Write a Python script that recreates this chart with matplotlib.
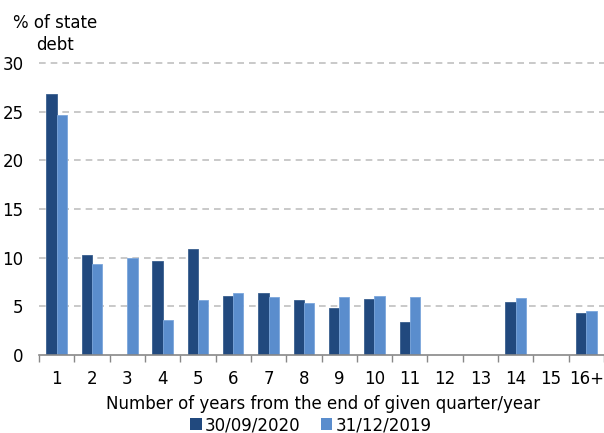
import matplotlib
matplotlib.use("Agg")
import matplotlib.pyplot as plt
import numpy as np
from matplotlib.patches import Patch

categories = ["1", "2", "3", "4", "5", "6", "7", "8", "9", "10", "11", "12", "13", "14", "15", "16+"]
debt_2020 = [26.8, 10.3, 0, 9.7, 10.9, 6.1, 6.4, 5.7, 4.8, 5.8, 3.4, 0, 0, 5.4, 0, 4.3]
debt_2019 = [24.7, 9.3, 10.0, 3.6, 5.7, 6.4, 6.0, 5.3, 6.0, 6.1, 6.0, 0, 0, 5.9, 0, 4.5]
series_labels = ["30/09/2020", "31/12/2019"]
yticks = [0, 5, 10, 15, 20, 25, 30]

dark = "#21497e"
light = "#5a8dcd"
fs = 12

plt.rcParams["font.family"] = ["DejaVu Sans"]

fig = plt.figure(figsize=(6.04, 4.33), dpi=100)
ax = fig.add_axes([39 / 604, 1 - 355 / 433, 565 / 604, 292 / 433])

x = np.arange(len(categories))
w = 0.29
ax.bar(x - w / 2, debt_2020, width=w, color=dark, edgecolor="#3a5f8f", linewidth=0.6, zorder=3)
ax.bar(x + w / 2, debt_2019, width=w, color=light, edgecolor="#7ba6dc", linewidth=0.6, zorder=3)

ax.set_xlim(-0.5, len(categories) - 0.5)
ax.set_ylim(0, 30)
ax.set_yticks(yticks)
ax.set_yticklabels([str(v) for v in yticks], fontsize=fs)
ax.set_xticks(x)
ax.set_xticklabels(categories, fontsize=fs)
ax.set_xticks(np.arange(len(categories) + 1) - 0.5, minor=True)
ax.tick_params(axis="x", which="major", length=0, pad=11)
ax.tick_params(axis="x", which="minor", length=5, color="#888888", width=1)
ax.tick_params(axis="y", length=0, pad=11)

for v in yticks[1:]:
    ax.axhline(v, color="#c0c0c0", linestyle=(0, (4, 3)), linewidth=1.2, zorder=1, clip_on=False)

for s in ["left", "right", "top"]:
    ax.spines[s].set_visible(False)
ax.spines["bottom"].set_color("#888888")
ax.spines["bottom"].set_linewidth(1.2)
ax.spines["bottom"].set_zorder(4)

fig.text(55 / 604, 1 - 34 / 433, "% of state\ndebt", ha="center", va="center", fontsize=fs,
         linespacing=1.35)
fig.text(323 / 604, 1 - 404 / 433, "Number of years from the end of given quarter/year",
         ha="center", va="center", fontsize=fs)

handles = [Patch(facecolor=dark), Patch(facecolor=light)]
fig.legend(handles, series_labels, loc="center", bbox_to_anchor=(311 / 604, 1 - 425 / 433),
           ncol=2, frameon=False, fontsize=fs, handlelength=0.7, handleheight=0.7,
           handletextpad=0.2, columnspacing=1.2, borderaxespad=0, borderpad=0)

fig.savefig("out.png", dpi=100)
